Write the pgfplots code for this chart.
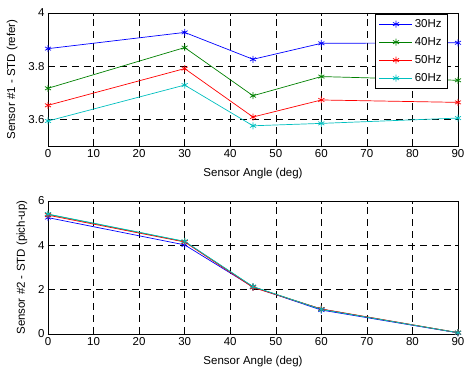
\documentclass[border=0pt]{standalone}
\usepackage{fontspec}
\setmainfont{Liberation Sans}
\usepackage{pgfplots}
\pgfplotsset{compat=1.18}
\definecolor{mgreen}{rgb}{0,0.5,0}
\definecolor{mcyan}{rgb}{0,0.75,0.75}
\pgfplotsset{
  myaxis/.style={
    scale only axis, width=410pt, height=133pt,
    xmin=0, xmax=90, xtick={0,10,...,90},
    grid=major,
    major grid style={black, line width=0.5pt, dash pattern=on 7pt off 5pt},
    tick align=inside, major tick length=3pt,
    tick style={black, line width=0.5pt},
    axis line style={black, line width=0.8pt},
    every tick label/.append style={font=\fontsize{11.5}{13}\selectfont},
    label style={font=\fontsize{11.5}{13}\selectfont},
    /pgf/number format/assume math mode=true,
    xlabel={Sensor Angle (deg)},
    xlabel style={yshift=-4pt},
    every axis plot/.append style={line width=0.7pt, mark=asterisk, mark size=3.5pt, mark options={solid, line width=0.7pt}},
  }
}
\begin{document}
\begin{tikzpicture}
\begin{axis}[myaxis, at={(48pt,223pt)}, anchor=south west,
  ymin=3.5, ymax=4, ytick={3.6,3.8,4}, yticklabels={3.6,3.8,4},
  ylabel={Sensor \#1 - STD (refer)}, ylabel style={yshift=4pt},
  legend style={at={(0.9756,0.992)}, anchor=north east, draw=black, line width=0.6pt,
    font=\fontsize{11.5}{13}\selectfont, cells={anchor=west}, row sep=4.5pt,
    inner xsep=4pt, inner ysep=3pt},
  legend image code/.code={\draw[mark repeat=2,mark phase=2] plot coordinates {(0cm,0cm) (0.58cm,0cm) (1.16cm,0cm)};},
  legend cell align=left]
\addplot[blue] coordinates {(0,3.866) (30,3.927) (45,3.826) (60,3.886) (90,3.888)};
\addlegendentry{30Hz}
\addplot[mgreen] coordinates {(0,3.717) (30,3.870) (45,3.689) (60,3.761) (90,3.747)};
\addlegendentry{40Hz}
\addplot[red] coordinates {(0,3.653) (30,3.791) (45,3.609) (60,3.673) (90,3.664)};
\addlegendentry{50Hz}
\addplot[mcyan] coordinates {(0,3.594) (30,3.729) (45,3.576) (60,3.585) (90,3.605)};
\addlegendentry{60Hz}
\end{axis}
\begin{axis}[myaxis, at={(48pt,35pt)}, anchor=south west,
  ymin=0, ymax=6, ytick={0,2,4,6},
  ylabel={Sensor \#2 - STD (pich-up)}, ylabel style={yshift=4pt}]
\addplot[blue] coordinates {(0,5.25) (30,4.02) (45,2.12) (60,1.08) (90,0.05)};
\addplot[mgreen] coordinates {(0,5.40) (30,4.17) (45,2.13) (60,1.12) (90,0.06)};
\addplot[red] coordinates {(0,5.36) (30,4.15) (45,2.10) (60,1.13) (90,0.06)};
\addplot[mcyan] coordinates {(0,5.41) (30,4.18) (45,2.14) (60,1.11) (90,0.06)};
\end{axis}
\pgfresetboundingbox
\useasboundingbox (0,0) rectangle (464pt,369pt);
\end{tikzpicture}
\end{document}
